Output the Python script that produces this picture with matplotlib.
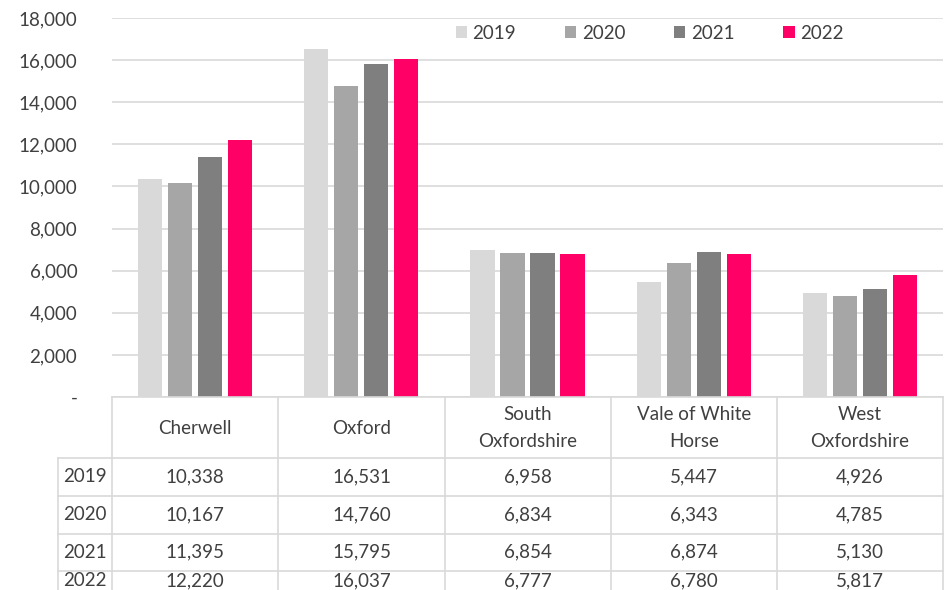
import numpy as np
import matplotlib
matplotlib.use('Agg')
import matplotlib.pyplot as plt
from matplotlib.lines import Line2D

plt.rcParams['font.family'] = ['Lato', 'DejaVu Sans']

areas = ['Cherwell', 'Oxford', 'South\nOxfordshire', 'Vale of White\nHorse', 'West\nOxfordshire']
years = ['2019', '2020', '2021', '2022']
v2019 = [10338, 16531, 6958, 5447, 4926]
v2020 = [10167, 14760, 6834, 6343, 4785]
v2021 = [11395, 15795, 6854, 6874, 5130]
v2022 = [12220, 16037, 6777, 6780, 5817]
series = [v2019, v2020, v2021, v2022]
colors = ['#d9d9d9', '#a6a6a6', '#7f7f7f', '#ff0066']
yticks = [0, 2000, 4000, 6000, 8000, 10000, 12000, 14000, 16000, 18000]

W, H = 946, 590
txt = '#404040'
grid = '#d9d9d9'
fs = 13.5

fig = plt.figure(figsize=(W / 100, H / 100), dpi=100)

# plot area in pixels
left, right, top, bot = 112, 943, 18, 397
ax = fig.add_axes([left / W, 1 - bot / H, (right - left) / W, (bot - top) / H])

x = np.arange(len(areas))
offsets = [-0.271, -0.09, 0.09, 0.271]
for i in range(4):
    ax.bar(x + offsets[i], series[i], width=0.145, color=colors[i], label=years[i], zorder=3)

ax.set_xlim(-0.5, len(areas) - 0.5)
ax.set_ylim(0, 18000)
ax.set_yticks(yticks)
ax.set_yticklabels(['-' if t == 0 else f'{t:,}' for t in yticks], color=txt, fontsize=fs)
ax.set_xticks([])
ax.tick_params(axis='y', length=0, pad=25)
for s in ax.spines.values():
    s.set_visible(False)
ax.grid(axis='y', color=grid, linewidth=1.2, zorder=0)

ax.legend(loc='center', bbox_to_anchor=(0.647, 0.96), ncol=4, frameon=False,
          handlelength=0.6, handleheight=0.6, handletextpad=0.3, columnspacing=2.6,
          fontsize=fs, labelcolor=txt)

# data table drawn in figure pixels
def fx(px):
    return px / W

def fy(py):
    return 1 - py / H

def hline(y, x0, x1):
    fig.add_artist(Line2D([fx(x0), fx(x1)], [fy(y), fy(y)], color=grid, linewidth=1.2))

def vline(xx, y0, y1):
    fig.add_artist(Line2D([fx(xx), fx(xx)], [fy(y0), fy(y1)], color=grid, linewidth=1.2))

col_edges = [112, 278, 445, 611, 777, 943]
row_edges = [458, 496, 534, 571]
hline(397, 112, 943)
for r in row_edges:
    hline(r, 58, 943)
for c in col_edges:
    vline(c, 397, 590)
vline(58, 458, 590)

for j, a in enumerate(areas):
    cx = (col_edges[j] + col_edges[j + 1]) / 2
    fig.text(fx(cx), fy(428), a, ha='center', va='center', fontsize=fs,
             color=txt, linespacing=1.75)

row_centers = [477, 515, 552, 581]
for i, yr in enumerate(years):
    fig.text(fx(85), fy(row_centers[i]), yr, ha='center', va='center', fontsize=fs, color=txt)
    for j in range(len(areas)):
        cx = (col_edges[j] + col_edges[j + 1]) / 2
        fig.text(fx(cx), fy(row_centers[i]), f'{series[i][j]:,}', ha='center', va='center',
                 fontsize=fs, color=txt)

plt.savefig('out.png', dpi=100)
